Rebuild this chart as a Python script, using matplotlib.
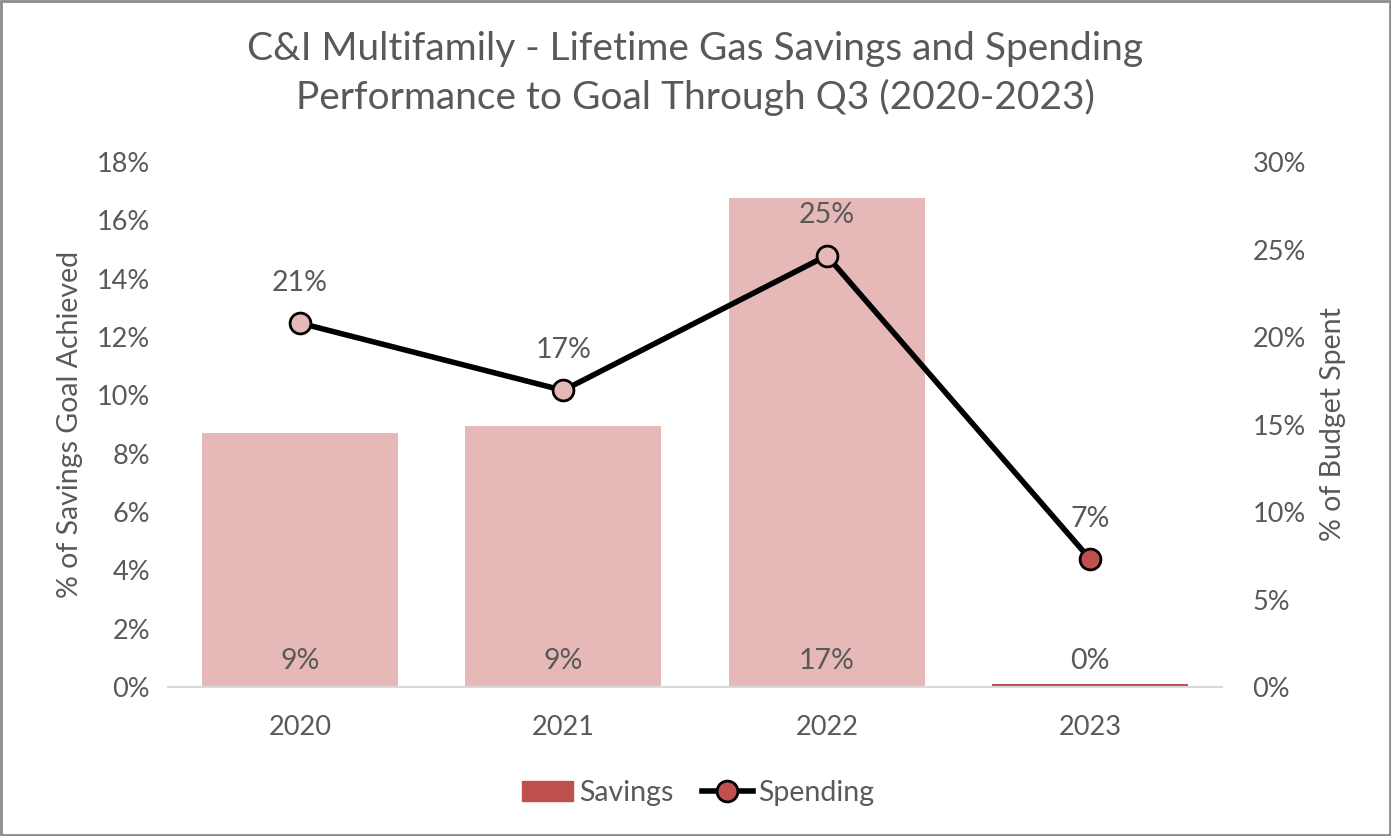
import matplotlib
matplotlib.use('Agg')
import matplotlib.pyplot as plt
from matplotlib.patches import Rectangle
from matplotlib.lines import Line2D
from matplotlib.ticker import PercentFormatter

plt.rcParams['font.family'] = ['Lato', 'DejaVu Sans']

years = ['2020', '2021', '2022', '2023']
savings = [8.7, 8.95, 16.75, 0.1]        # % of savings goal achieved
spending = [20.8, 16.95, 24.65, 7.3]     # % of budget spent
savings_labels = ['9%', '9%', '17%', '0%']
spending_labels = ['21%', '17%', '25%', '7%']

grey = '#595959'
pink = '#E6B9B8'
red = '#C0504D'

fig = plt.figure(figsize=(13.91, 8.36), dpi=100)
ax = fig.add_axes([0.1208, 0.1782, 0.7577, 0.628])
ax2 = ax.twinx()

x = range(len(years))
bar_colors = [pink, pink, pink, red]
ax.bar(x, savings, width=0.745, color=bar_colors, zorder=2)
ax.set_ylim(0, 18)
ax.set_xlim(-0.5, 3.5)
ax.set_yticks(range(0, 19, 2))
ax.yaxis.set_major_formatter(PercentFormatter(decimals=0))
ax.set_xticks(list(x))
ax.set_xticklabels(years)

for i, lab in enumerate(savings_labels):
    ax.annotate(lab, (i, 0), xytext=(0, 19), textcoords='offset points',
                ha='center', va='center', fontsize=20.5, color=grey)

marker_colors = [pink, pink, pink, red]
ax2.plot(list(x), spending, color='black', lw=4, zorder=3)
for i, v in enumerate(spending):
    ax2.plot(i, v, 'o', ms=15, mfc=marker_colors[i], mec='black', mew=2, zorder=4)
    ax2.annotate(spending_labels[i], (i, v), xytext=(0, 29), textcoords='offset points',
                 ha='center', va='center', fontsize=20.5, color=grey)
ax2.set_ylim(0, 30)
ax2.set_yticks(range(0, 31, 5))
ax2.yaxis.set_major_formatter(PercentFormatter(decimals=0))

for a in (ax, ax2):
    for s in a.spines.values():
        s.set_visible(False)
    a.tick_params(length=0, labelsize=19.5, labelcolor=grey)
ax.spines['bottom'].set_visible(True)
ax.spines['bottom'].set_color('#D9D9D9')
ax.spines['bottom'].set_linewidth(1.5)
ax.tick_params(axis='x', pad=20)
ax.tick_params(axis='y', pad=13)
ax2.tick_params(axis='y', pad=22)

ax.set_ylabel('% of Savings Goal Achieved', fontsize=20.5, color=grey, labelpad=10)
ax2.set_ylabel('% of Budget Spent', fontsize=20.5, color=grey, labelpad=10)

fig.text(0.5, 0.912,
         'C&I Multifamily - Lifetime Gas Savings and Spending\nPerformance to Goal Through Q3 (2020-2023)',
         ha='center', va='center', fontsize=28, color=grey, linespacing=1.38)

handles = [Rectangle((0, 0), 1, 1, color=red),
           Line2D([0], [0], color='black', lw=4, marker='o', ms=15, mfc=red, mec='black', mew=2)]
fig.legend(handles, ['Savings', 'Spending'], loc='center', bbox_to_anchor=(0.502, 0.052),
           ncol=2, frameon=False, fontsize=20.5, labelcolor=grey, handlelength=1.8,
           handletextpad=0.2, columnspacing=1.0)

fig.patches.append(Rectangle((0.001, 0.001), 0.998, 0.998, transform=fig.transFigure,
                             fill=False, edgecolor='#8C8C8C', lw=2))

fig.savefig('out.png', dpi=100)
